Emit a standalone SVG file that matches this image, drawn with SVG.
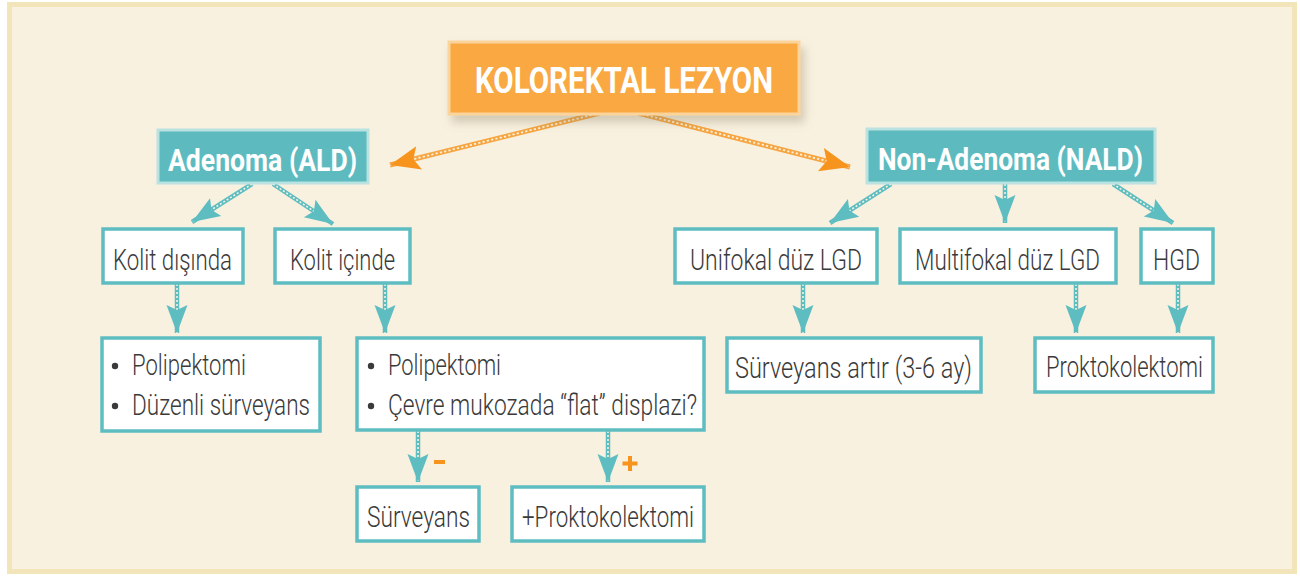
<svg xmlns="http://www.w3.org/2000/svg" xmlns:xlink="http://www.w3.org/1999/xlink" width="1300" height="576" viewBox="0 0 1300 576">
<style>
.hdr{fill:#5DBBBF;stroke:#B9E2E1;stroke-width:3}
.box{fill:#FFFFFF;stroke:#5DBDC1;stroke-width:3.5}
.ht{font-family:Roboto,"Liberation Sans",sans-serif;font-weight:700;fill:#FFFFFF;font-size:32px}
.tt{font-family:Roboto,"Liberation Sans",sans-serif;font-weight:700;fill:#FFFFFF;font-size:36px}
.bt{font-family:Roboto,"Liberation Sans",sans-serif;font-weight:300;fill:#3A3A3A;font-size:30px}
.ct{fill:none;stroke:#5DBDC1;stroke-width:4.5}
.ci{fill:none;stroke:#F8F1E0;stroke-width:1.6;stroke-dasharray:2 2}
.co{fill:none;stroke:#F7A540;stroke-width:5}
.coi{fill:none;stroke:#F8F1E0;stroke-width:1.8;stroke-dasharray:2.2 2.2}
.at{fill:none;stroke:none;marker-end:url(#mt)}
.ao{fill:none;stroke:none;marker-end:url(#mo)}
.dot{fill:#3A3A3A}
.sign{fill:#F7941D}
</style>
<defs>
<filter id="sh" x="-10%" y="-20%" width="125%" height="160%">
<feDropShadow dx="4" dy="7" stdDeviation="5" flood-color="#8a7f60" flood-opacity="0.35"/>
</filter>
<marker id="mt" viewBox="-30 -12 32 24" refX="0" refY="0" markerWidth="32" markerHeight="24" orient="auto" markerUnits="userSpaceOnUse">
<path d="M0,0 L-28,-10.5 L-23,0 L-28,10.5 Z" fill="#5DBDC1"/>
</marker>
<marker id="mo" viewBox="-32 -14 34 28" refX="0" refY="0" markerWidth="34" markerHeight="28" orient="auto" markerUnits="userSpaceOnUse">
<path d="M0,0 L-30,-12 L-24,0 L-30,12 Z" fill="#F7941D"/>
</marker>
<path id="o1" d="M600,113 L390,165"/>
<path id="o2" d="M638,113 L850,167"/>
<path id="a1" d="M252,184 L192,222"/>
<path id="a2" d="M273,184 L333,224"/>
<path id="k1" d="M177,284 L177,333"/>
<path id="k2" d="M385,284 L385,333"/>
<path id="pm" d="M418,431 L418,482"/>
<path id="pp" d="M608,431 L608,482"/>
<path id="n1" d="M891,184 L830,223"/>
<path id="n2" d="M1005,184 L1005,223"/>
<path id="n3" d="M1113,184 L1173,223"/>
<path id="u1" d="M803,284 L803,333"/>
<path id="m1" d="M1076,284 L1076,333"/>
<path id="h1" d="M1178,284 L1178,333"/>
</defs>
<rect x="0" y="0" width="1300" height="576" fill="#FFFFFF"/>
<rect x="7" y="2" width="1290" height="572" fill="#F2E5BA"/>
<rect x="12" y="7" width="1280" height="562" fill="#F8F1E0"/>

<g id="connectors">
<g id="chains">
<use xlink:href="#o1" class="co"/><use xlink:href="#o1" class="coi"/>
<use xlink:href="#o2" class="co"/><use xlink:href="#o2" class="coi"/>
<use xlink:href="#a1" class="ct"/><use xlink:href="#a1" class="ci"/>
<use xlink:href="#a2" class="ct"/><use xlink:href="#a2" class="ci"/>
<use xlink:href="#k1" class="ct"/><use xlink:href="#k1" class="ci"/>
<use xlink:href="#k2" class="ct"/><use xlink:href="#k2" class="ci"/>
<use xlink:href="#pm" class="ct"/><use xlink:href="#pm" class="ci"/>
<use xlink:href="#pp" class="ct"/><use xlink:href="#pp" class="ci"/>
<use xlink:href="#n1" class="ct"/><use xlink:href="#n1" class="ci"/>
<use xlink:href="#n2" class="ct"/><use xlink:href="#n2" class="ci"/>
<use xlink:href="#n3" class="ct"/><use xlink:href="#n3" class="ci"/>
<use xlink:href="#u1" class="ct"/><use xlink:href="#u1" class="ci"/>
<use xlink:href="#m1" class="ct"/><use xlink:href="#m1" class="ci"/>
<use xlink:href="#h1" class="ct"/><use xlink:href="#h1" class="ci"/>
</g>
<g id="heads">
<use xlink:href="#o1" class="ao"/><use xlink:href="#o2" class="ao"/>
<use xlink:href="#a1" class="at"/><use xlink:href="#a2" class="at"/>
<use xlink:href="#k1" class="at"/><use xlink:href="#k2" class="at"/>
<use xlink:href="#pm" class="at"/><use xlink:href="#pp" class="at"/>
<use xlink:href="#n1" class="at"/><use xlink:href="#n2" class="at"/><use xlink:href="#n3" class="at"/>
<use xlink:href="#u1" class="at"/><use xlink:href="#m1" class="at"/><use xlink:href="#h1" class="at"/>
</g>
<rect x="434" y="460" width="11" height="4" class="sign"/>
<path d="M628,456 h4 v5.5 h5.5 v4 h-5.5 v5.5 h-4 v-5.5 h-5.5 v-4 h5.5 Z" class="sign"/>
</g>

<g id="n-title">
<rect x="449" y="42" width="350" height="72" fill="#F9A843" stroke="#FBD49B" stroke-width="3" filter="url(#sh)"/>
<text x="475" y="93" class="tt" textLength="298" lengthAdjust="spacingAndGlyphs">KOLOREKTAL LEZYON</text>
</g>
<g id="n-adenoma">
<rect x="158" y="130" width="210" height="53" class="hdr"/>
<text x="168" y="171" class="ht" textLength="189" lengthAdjust="spacingAndGlyphs">Adenoma (ALD)</text>
</g>
<g id="n-nonadenoma">
<rect x="867" y="129" width="288" height="54" class="hdr"/>
<text x="878" y="170" class="ht" textLength="265" lengthAdjust="spacingAndGlyphs">Non-Adenoma (NALD)</text>
</g>
<g id="n-kolit-disinda">
<rect x="103" y="229" width="140" height="54" class="box"/>
<text class="bt" transform="translate(113,270) scale(0.8,1)" textLength="148.75" lengthAdjust="spacingAndGlyphs">Kolit dışında</text>
</g>
<g id="n-kolit-icinde">
<rect x="275" y="229" width="135" height="54" class="box"/>
<text class="bt" transform="translate(290,270) scale(0.8,1)" textLength="131.25" lengthAdjust="spacingAndGlyphs">Kolit içinde</text>
</g>
<g id="n-unifokal">
<rect x="675" y="229" width="202" height="54" class="box"/>
<text class="bt" transform="translate(690,270) scale(0.8,1)" textLength="215" lengthAdjust="spacingAndGlyphs">Unifokal düz LGD</text>
</g>
<g id="n-multifokal">
<rect x="900" y="229" width="216" height="54" class="box"/>
<text class="bt" transform="translate(915,270) scale(0.8,1)" textLength="231.25" lengthAdjust="spacingAndGlyphs">Multifokal düz LGD</text>
</g>
<g id="n-hgd">
<rect x="1141" y="229" width="72" height="54" class="box"/>
<text class="bt" transform="translate(1153,270) scale(0.8,1)" textLength="58.75" lengthAdjust="spacingAndGlyphs">HGD</text>
</g>
<g id="n-polip1">
<rect x="102" y="338" width="218" height="93" class="box"/>
<circle cx="115" cy="366" r="3.2" class="dot"/>
<circle cx="115" cy="406" r="3.2" class="dot"/>
<text class="bt" transform="translate(132,375) scale(0.8,1)" textLength="142.5" lengthAdjust="spacingAndGlyphs">Polipektomi</text>
<text class="bt" transform="translate(132,415) scale(0.8,1)" textLength="222.5" lengthAdjust="spacingAndGlyphs">Düzenli sürveyans</text>
</g>
<g id="n-polip2">
<rect x="357" y="338" width="347" height="92" class="box"/>
<circle cx="371" cy="366" r="3.2" class="dot"/>
<circle cx="371" cy="406" r="3.2" class="dot"/>
<text class="bt" transform="translate(388,375) scale(0.8,1)" textLength="141.25" lengthAdjust="spacingAndGlyphs">Polipektomi</text>
<text class="bt" transform="translate(388,415) scale(0.8,1)" textLength="386.25" lengthAdjust="spacingAndGlyphs">Çevre mukozada “flat” displazi?</text>
</g>
<g id="n-surveyans-artir">
<rect x="727" y="338" width="254" height="54" class="box"/>
<text class="bt" transform="translate(735,378) scale(0.8,1)" textLength="296.25" lengthAdjust="spacingAndGlyphs">Sürveyans artır (3-6 ay)</text>
</g>
<g id="n-proktokolektomi">
<rect x="1035" y="338" width="178" height="54" class="box"/>
<text class="bt" transform="translate(1046,377) scale(0.8,1)" textLength="196.25" lengthAdjust="spacingAndGlyphs">Proktokolektomi</text>
</g>
<g id="n-surveyans">
<rect x="357" y="487" width="122" height="54" class="box"/>
<text class="bt" transform="translate(367,527) scale(0.8,1)" textLength="128.75" lengthAdjust="spacingAndGlyphs">Sürveyans</text>
</g>
<g id="n-plus-prokto">
<rect x="512" y="487" width="192" height="54" class="box"/>
<text class="bt" transform="translate(522,527) scale(0.8,1)" textLength="215" lengthAdjust="spacingAndGlyphs">+Proktokolektomi</text>
</g>
</svg>
